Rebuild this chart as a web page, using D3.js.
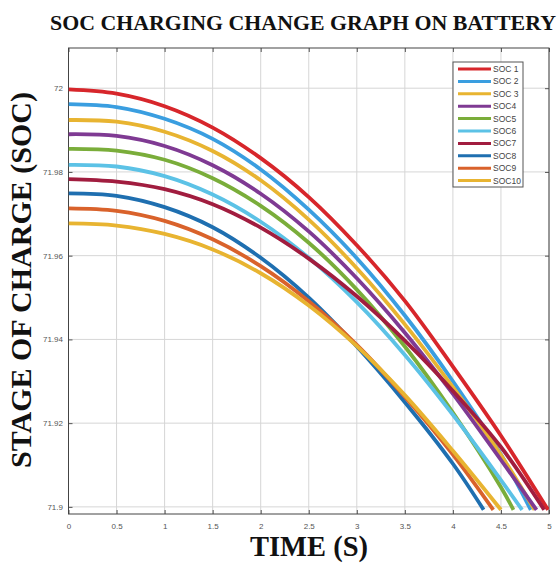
<!DOCTYPE html>
<html><head><meta charset="utf-8">
<script src="https://cdn.jsdelivr.net/npm/d3@7"></script>
<style>body{margin:0;background:#fff}svg{display:block}</style>
</head><body><div id="chart"></div>
<script>
// ---- data ----
const timeGrid = [0, 0.5, 1, 1.5, 2, 2.5, 3, 3.5, 4, 4.5];
const seriesNames = ["SOC 1","SOC 2","SOC 3","SOC4","SOC5","SOC6","SOC7","SOC8","SOC9","SOC10"];
const soc1  = [71.9997,71.9987,71.9957,71.9906,71.9833,71.9740,71.9625,71.9492,71.9335,71.9170];
const soc2  = [71.9962,71.9955,71.9927,71.9879,71.9806,71.9710,71.9594,71.9457,71.9300,71.9125];
const soc3  = [71.9924,71.9920,71.9896,71.9850,71.9780,71.9686,71.9570,71.9436,71.9286,71.9124];
const soc4  = [71.9890,71.9886,71.9862,71.9816,71.9748,71.9658,71.9546,71.9416,71.9270,71.9112];
const soc5  = [71.9855,71.9851,71.9829,71.9785,71.9719,71.9631,71.9519,71.9383,71.9225,71.9047];
const soc6  = [71.9817,71.9813,71.9790,71.9746,71.9681,71.9595,71.9489,71.9363,71.9220,71.9064];
const soc7  = [71.9783,71.9777,71.9759,71.9723,71.9667,71.9593,71.9503,71.9397,71.9277,71.9143];
const soc8  = [71.9749,71.9743,71.9716,71.9668,71.9595,71.9500,71.9383,71.9250,71.9103];
const soc9  = [71.9713,71.9707,71.9683,71.9639,71.9575,71.9491,71.9387,71.9263,71.9125];
const soc10 = [71.9677,71.9672,71.9652,71.9615,71.9558,71.9481,71.9384,71.9267,71.9134];
const endTimes = [4.99, 4.81, 4.85, 4.87, 4.63, 4.72, 4.95, 4.32, 4.42, 4.50];
const endValue = 71.8993;
const xTicks = [0, 0.5, 1, 1.5, 2, 2.5, 3, 3.5, 4, 4.5, 5];
const yTicks = [71.9, 71.92, 71.94, 71.96, 71.98, 72];
const colors = ["#d7262b","#3a9ee0","#e8b431","#7f3a93","#7aad3a","#5cc2e6","#a11d3f","#1f6fb0","#d9622b","#e8b431"];

const allValues = [soc1,soc2,soc3,soc4,soc5,soc6,soc7,soc8,soc9,soc10];
const series = allValues.map((vals, i) => {
  const pts = vals.map((v, j) => ({t: timeGrid[j], v}));
  pts.push({t: endTimes[i], v: endValue});
  return {name: seriesNames[i], color: colors[i], pts};
});

// ---- layout ----
const W = 558, H = 567;
const pL = 68.5, pR = 549, pT = 48, pB = 514;
const svg = d3.select("#chart").append("svg").attr("width", W).attr("height", H);

const x = d3.scaleLinear().domain([0, 5]).range([pL, pR]);
const y = d3.scaleLinear().domain([71.8983, 72.0096]).range([pB, pT]);

// grid
const g = svg.append("g");
g.selectAll("line.vg").data(xTicks).join("line")
  .attr("x1", d => x(d)).attr("x2", d => x(d)).attr("y1", pT).attr("y2", pB)
  .attr("stroke", "#d6d6d6").attr("stroke-width", 1);
g.selectAll("line.hg").data(yTicks).join("line")
  .attr("x1", pL).attr("x2", pR).attr("y1", d => y(d)).attr("y2", d => y(d))
  .attr("stroke", "#d6d6d6").attr("stroke-width", 1);

// axes with inward ticks
const xAxisB = d3.axisBottom(x).tickValues(xTicks).tickSize(-4).tickPadding(9).tickFormat(d3.format("~g"));
const xAxisT = d3.axisTop(x).tickValues(xTicks).tickSize(-4).tickFormat("");
const yAxisL = d3.axisLeft(y).tickValues(yTicks).tickSize(-4).tickPadding(5.5).tickFormat(d3.format("~g"));
const yAxisR = d3.axisRight(y).tickValues(yTicks).tickSize(-4).tickFormat("");

function styleAxis(sel){
  sel.select(".domain").remove();
  sel.selectAll(".tick line").attr("stroke", "#555");
  sel.selectAll("text").attr("font-family", "Arial, 'Liberation Sans', sans-serif").attr("font-size", 8).attr("fill", "#555");
}
svg.append("g").attr("transform", `translate(0,${pB})`).call(xAxisB).call(styleAxis);
svg.append("g").attr("transform", `translate(0,${pT})`).call(xAxisT).call(styleAxis);
svg.append("g").attr("transform", `translate(${pL},0)`).call(yAxisL).call(styleAxis);
svg.append("g").attr("transform", `translate(${pR},0)`).call(yAxisR).call(styleAxis);

// frame
svg.append("rect").attr("x", pL).attr("y", pT).attr("width", pR - pL).attr("height", pB - pT)
  .attr("fill", "none").attr("stroke", "#444").attr("stroke-width", 1);

// lines
svg.append("clipPath").attr("id", "clip").append("rect")
  .attr("x", pL).attr("y", pT).attr("width", pR - pL).attr("height", pB - pT);
const line = d3.line().x(d => x(d.t)).y(d => y(d.v)).curve(d3.curveCatmullRom.alpha(0.5));
svg.append("g").attr("clip-path", "url(#clip)")
  .selectAll("path").data(series).join("path")
  .attr("d", d => line(d.pts)).attr("fill", "none")
  .attr("stroke", d => d.color).attr("stroke-width", 3.8).attr("stroke-linecap", "butt").attr("stroke-linejoin", "round");

// legend
const lg = svg.append("g");
const lx = 453, ly = 62, lw = 70, lh = 125, rowH = 12.4;
lg.append("rect").attr("x", lx).attr("y", ly).attr("width", lw).attr("height", lh)
  .attr("fill", "#fff").attr("stroke", "#555").attr("stroke-width", 1);
const rows = lg.selectAll("g.row").data(series).join("g")
  .attr("transform", (d, i) => `translate(0,${ly + 7 + i * rowH})`);
rows.append("line").attr("x1", lx + 5).attr("x2", lx + 38).attr("y1", 0).attr("y2", 0)
  .attr("stroke", d => d.color).attr("stroke-width", 3);
rows.append("text").attr("x", lx + 40).attr("y", 0).attr("dy", "0.35em")
  .attr("font-family", "Arial, 'Liberation Sans', sans-serif").attr("font-size", 8.5).attr("fill", "#444")
  .text(d => d.name);

// titles
const serif = "'Liberation Serif', 'Times New Roman', 'DejaVu Serif', serif";
svg.append("text").attr("x", 303).attr("y", 30).attr("text-anchor", "middle")
  .attr("font-family", serif).attr("font-weight", "bold").attr("font-size", 20)
  .attr("textLength", 506).attr("lengthAdjust", "spacingAndGlyphs").attr("fill", "#111")
  .text("SOC CHARGING CHANGE GRAPH ON BATTERY");
svg.append("text").attr("x", 309).attr("y", 556).attr("text-anchor", "middle")
  .attr("font-family", serif).attr("font-weight", "bold").attr("font-size", 28.5).attr("fill", "#111")
  .text("TIME (S)");
svg.append("text").attr("transform", "translate(31,280) rotate(-90)").attr("text-anchor", "middle")
  .attr("font-family", serif).attr("font-weight", "bold").attr("font-size", 30).attr("fill", "#111")
  .text("STAGE OF CHARGE (SOC)");
</script></body></html>
